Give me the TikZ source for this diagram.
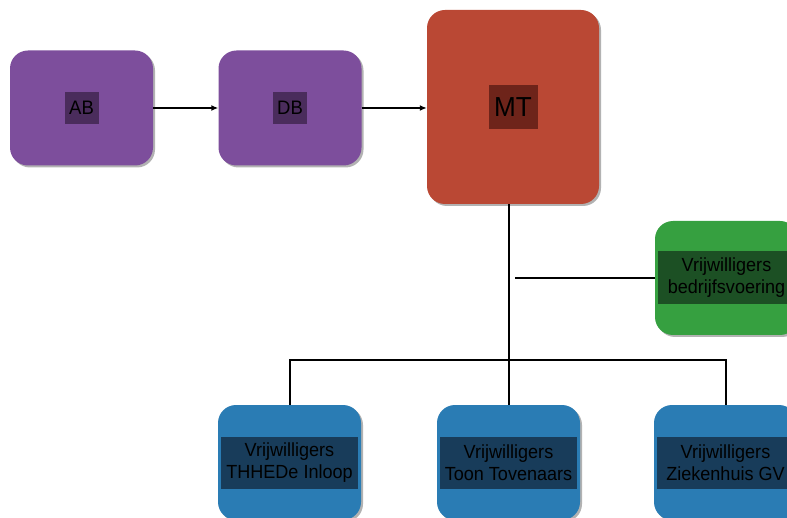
\documentclass[tikz,border=0pt]{standalone}
\usepackage{fontspec}
\setmainfont{Liberation Sans}
\newfontfamily\tagfont[FakeStretch=0.95]{Liberation Sans}
\usetikzlibrary{arrows.meta,shadows}

\definecolor{boardpurple}{RGB}{125,78,156}
\definecolor{boardpurpledark}{RGB}{74,44,92}
\definecolor{mtred}{RGB}{186,72,52}
\definecolor{mtreddark}{RGB}{110,36,26}
\definecolor{staffgreen}{RGB}{54,160,64}
\definecolor{staffgreendark}{RGB}{28,80,36}
\definecolor{teamblue}{RGB}{42,124,180}
\definecolor{teambluedark}{RGB}{24,60,90}

\tikzset{
  orgbox/.style={rounded corners=18pt, minimum width=143pt, minimum height=115pt,
    inner sep=0pt, drop shadow={shadow xshift=2pt, shadow yshift=-2pt, fill=black!60}},
  orgtag/.style={inner sep=0pt, align=center, text=black},
  link/.style={line width=2pt},
  flow/.style={line width=2pt, -{Latex[length=7pt, width=6pt]}}
}

\begin{document}
\begin{tikzpicture}[x=1pt, y=-1pt]
  \clip (0,0) rectangle (787,518);
  \fill[white] (0,0) rectangle (787,518);

  % Draw the boards
  \node[orgbox, fill=boardpurple] (ab) at (81.5,108) {};
  \node[orgtag, fill=boardpurpledark, minimum width=34pt, minimum height=32pt,
    font=\tagfont\fontsize{19.5}{22}\selectfont] (ab-tag) at (ab) {AB};

  \node[orgbox, fill=boardpurple] (db) at (290,108) {};
  \node[orgtag, fill=boardpurpledark, minimum width=34pt, minimum height=32pt,
    font=\tagfont\fontsize{19.5}{22}\selectfont] (db-tag) at (db) {DB};

  % Draw the management team
  \node[orgbox, fill=mtred, minimum width=172pt, minimum height=194pt] (mt) at (513,107) {};
  \node[orgtag, fill=mtreddark, minimum width=49pt, minimum height=44pt,
    font=\tagfont\fontsize{27.5}{30}\selectfont] (mt-tag) at (mt) {MT};

  % Draw the volunteer groups
  \node[orgbox, fill=staffgreen, minimum height=114pt] (vb) at (726.5,278) {};
  \node[orgtag, fill=staffgreendark, minimum width=137pt, minimum height=53pt,
    font=\tagfont\fontsize{19}{22}\selectfont] (vb-tag) at (vb) {Vrijwilligers\\bedrijfsvoering};

  \node[orgbox, fill=teamblue] (thhede) at (289.5,462.5) {};
  \node[orgtag, fill=teambluedark, minimum width=137pt, minimum height=52pt,
    font=\tagfont\fontsize{19}{22}\selectfont] (thhede-tag) at (thhede) {Vrijwilligers\\THHEDe Inloop};

  \node[orgbox, fill=teamblue] (toon) at (508.5,462.5) {};
  \node[orgtag, fill=teambluedark, minimum width=137pt, minimum height=52pt,
    font=\tagfont\fontsize{19}{22}\selectfont] (toon-tag) at (toon) {Vrijwilligers\\Toon Tovenaars};

  \node[orgbox, fill=teamblue] (zh) at (725.5,462.5) {};
  \node[orgtag, fill=teambluedark, minimum width=137pt, minimum height=52pt,
    font=\tagfont\fontsize{19}{22}\selectfont] (zh-tag) at (zh) {Vrijwilligers\\Ziekenhuis GV};

  % Connect the boards
  \draw[flow] (ab.east) -- (db.west);
  \draw[flow] (db.east) -- (mt.west |- db.east);

  % Connect the groups
  \coordinate (vb-join) at (515,278);
  \draw[link] (mt.south -| toon.north) -- (toon.north);
  \draw[link] (vb-join) -- (vb.west);
  \draw[link] (thhede.north) -- ++(0,-45) -| (zh.north);
\end{tikzpicture}
\end{document}
